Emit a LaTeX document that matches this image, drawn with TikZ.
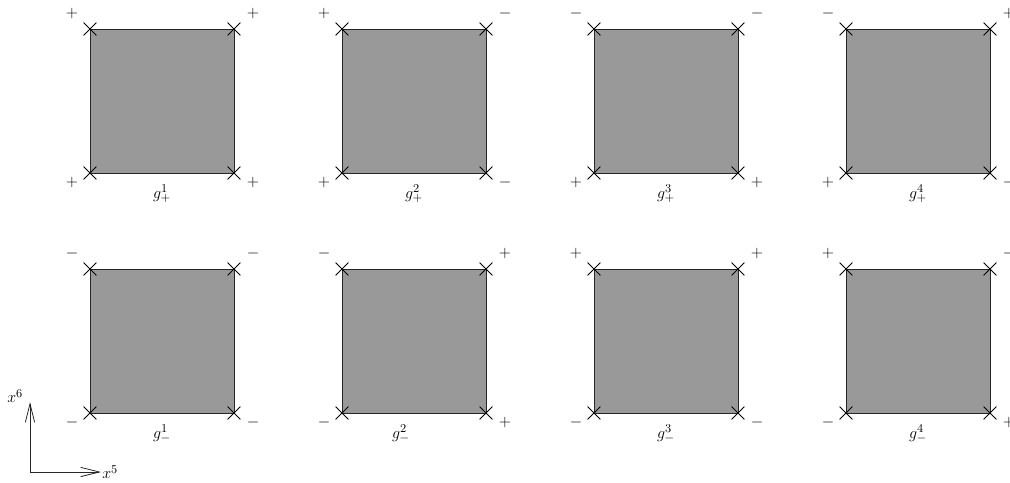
\documentclass[tikz,border=0pt]{standalone}
\usetikzlibrary{arrows.meta,shapes.misc}
\newcommand{\bigscr}[1]{\mbox{\small$#1$}}
\begin{document}
\begin{tikzpicture}[x=0.75pt,y=-0.75pt,
  sq/.style={draw=black!85, fill=black!40, line width=0.7pt, minimum size=108pt, inner sep=0pt, outer sep=0pt},
  crs/.style={cross out, draw=black, line width=0.6pt, minimum size=9pt, inner sep=0pt},
  sgn/.style={inner sep=0pt, font=\large},
  lbl/.style={inner sep=0pt, anchor=base, font=\large},
  axlbl/.style={inner sep=0pt, anchor=north west, font=\large},
  axis/.style={draw=black!85, line width=0.6pt, {Straight Barb[length=14pt,width=7pt]}-{Straight Barb[length=14pt,width=7pt]}}]
\useasboundingbox (0,0) rectangle (1010,482);
\foreach \c/\r/\a/\b/\d/\e/\k/\s/\dx in {
  0/0/+/+/+/+/1/+/0, 1/0/+/-/+/-/2/+/0, 2/0/-/-/+/+/3/+/0, 3/0/-/+/+/-/4/+/0,
  0/1/-/-/-/-/1/-/0, 1/1/-/+/-/+/2/-/-13, 2/1/+/+/-/-/3/-/0, 3/1/+/-/-/+/4/-/0}{
  \node[sq] (s\c\r) at ({162+252*\c},{101+240*\r}) {};
  \node[crs] (xnw\c\r) at (s\c\r.north west) {};
  \node[crs] (xne\c\r) at (s\c\r.north east) {};
  \node[crs] (xsw\c\r) at (s\c\r.south west) {};
  \node[crs] (xse\c\r) at (s\c\r.south east) {};
  \node[sgn] (tl\c\r) at ([shift={(-18,-16)}]s\c\r.north west) {$\a$};
  \node[sgn] (tr\c\r) at ([shift={(19,-16)}]s\c\r.north east) {$\b$};
  \node[sgn] (bl\c\r) at ([shift={(-18,9)}]s\c\r.south west) {$\d$};
  \node[sgn] (br\c\r) at ([shift={(19,9)}]s\c\r.south east) {$\e$};
  \node[lbl] (g\c\r) at ([shift={(\dx,25)}]s\c\r.south) {$g^{\bigscr{\k}}_{\bigscr{\s}}$};
}
\coordinate (o) at (30,472);
\coordinate (ya) at (30,402);
\coordinate (xa) at (101,472);
\draw[axis] (ya) -- (o) -- (xa);
\node[axlbl] (x6) at (7,389) {$x^{\bigscr{6}}$};
\node[axlbl] (x5) at (102,465) {$x^{\bigscr{5}}$};
\end{tikzpicture}
\end{document}
